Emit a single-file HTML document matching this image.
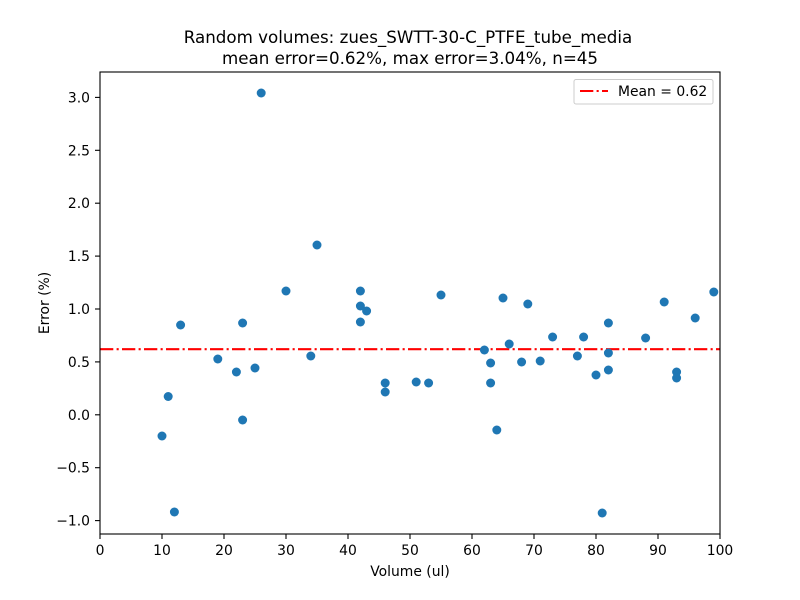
<!DOCTYPE html>
<html><head><meta charset="utf-8"><style>
html,body{margin:0;padding:0;background:#fff;}
svg{display:block;font-family:"DejaVu Sans","Liberation Sans",sans-serif;}
</style></head><body>
<svg width="800" height="600" viewBox="0 0 800 600" xmlns="http://www.w3.org/2000/svg">
<rect width="800" height="600" fill="#fff"/>
<text x="408" y="43" font-size="16.7" text-anchor="middle">Random volumes: zues_SWTT-30-C_PTFE_tube_media</text>
<text x="410" y="64" font-size="16.7" text-anchor="middle">mean error=0.62%, max error=3.04%, n=45</text>
<line x1="100" y1="349.2" x2="720" y2="349.2" stroke="#ff0000" stroke-width="2.08" stroke-dasharray="13.3,3.3,2.1,3.3"/>
<g fill="#1f77b4">
<circle cx="162" cy="436" r="4.5"/>
<circle cx="168.2" cy="396.5" r="4.5"/>
<circle cx="174.4" cy="512" r="4.5"/>
<circle cx="180.6" cy="325" r="4.5"/>
<circle cx="217.8" cy="359" r="4.5"/>
<circle cx="236.4" cy="372" r="4.5"/>
<circle cx="242.6" cy="323" r="4.5"/>
<circle cx="242.6" cy="420" r="4.5"/>
<circle cx="255" cy="368" r="4.5"/>
<circle cx="261.2" cy="93" r="4.5"/>
<circle cx="286" cy="291" r="4.5"/>
<circle cx="310.8" cy="356" r="4.5"/>
<circle cx="317" cy="245" r="4.5"/>
<circle cx="360.4" cy="291" r="4.5"/>
<circle cx="360.4" cy="306" r="4.5"/>
<circle cx="360.4" cy="322" r="4.5"/>
<circle cx="366.6" cy="311" r="4.5"/>
<circle cx="385.2" cy="383" r="4.5"/>
<circle cx="385.2" cy="392" r="4.5"/>
<circle cx="416.2" cy="382" r="4.5"/>
<circle cx="428.6" cy="383" r="4.5"/>
<circle cx="441" cy="295" r="4.5"/>
<circle cx="484.4" cy="350" r="4.5"/>
<circle cx="490.6" cy="363" r="4.5"/>
<circle cx="490.6" cy="383" r="4.5"/>
<circle cx="496.8" cy="430" r="4.5"/>
<circle cx="503" cy="298" r="4.5"/>
<circle cx="509.2" cy="344" r="4.5"/>
<circle cx="521.6" cy="362" r="4.5"/>
<circle cx="527.8" cy="304" r="4.5"/>
<circle cx="540.2" cy="361" r="4.5"/>
<circle cx="552.6" cy="337" r="4.5"/>
<circle cx="577.4" cy="356" r="4.5"/>
<circle cx="583.6" cy="337" r="4.5"/>
<circle cx="596" cy="375" r="4.5"/>
<circle cx="602.2" cy="513" r="4.5"/>
<circle cx="608.4" cy="323" r="4.5"/>
<circle cx="608.4" cy="353" r="4.5"/>
<circle cx="608.4" cy="370" r="4.5"/>
<circle cx="645.6" cy="338" r="4.5"/>
<circle cx="664.2" cy="302" r="4.5"/>
<circle cx="676.6" cy="372" r="4.5"/>
<circle cx="676.6" cy="378" r="4.5"/>
<circle cx="695.2" cy="318" r="4.5"/>
<circle cx="713.8" cy="292" r="4.5"/>
</g>
<rect x="100" y="72" width="620" height="462" fill="none" stroke="#000" stroke-width="1.1"/>
<g stroke="#000" stroke-width="1.1">
<line x1="100" y1="534" x2="100" y2="539"/>
<line x1="162" y1="534" x2="162" y2="539"/>
<line x1="224" y1="534" x2="224" y2="539"/>
<line x1="286" y1="534" x2="286" y2="539"/>
<line x1="348" y1="534" x2="348" y2="539"/>
<line x1="410" y1="534" x2="410" y2="539"/>
<line x1="472" y1="534" x2="472" y2="539"/>
<line x1="534" y1="534" x2="534" y2="539"/>
<line x1="596" y1="534" x2="596" y2="539"/>
<line x1="658" y1="534" x2="658" y2="539"/>
<line x1="720" y1="534" x2="720" y2="539"/>
</g>
<g font-size="13.9" text-anchor="middle">
<text x="100" y="555">0</text>
<text x="162" y="555">10</text>
<text x="224" y="555">20</text>
<text x="286" y="555">30</text>
<text x="348" y="555">40</text>
<text x="410" y="555">50</text>
<text x="472" y="555">60</text>
<text x="534" y="555">70</text>
<text x="596" y="555">80</text>
<text x="658" y="555">90</text>
<text x="720" y="555">100</text>
</g>
<g stroke="#000" stroke-width="1.1">
<line x1="95" y1="520.6" x2="100" y2="520.6"/>
<line x1="95" y1="467.7" x2="100" y2="467.7"/>
<line x1="95" y1="414.8" x2="100" y2="414.8"/>
<line x1="95" y1="361.9" x2="100" y2="361.9"/>
<line x1="95" y1="309" x2="100" y2="309"/>
<line x1="95" y1="256.1" x2="100" y2="256.1"/>
<line x1="95" y1="203.2" x2="100" y2="203.2"/>
<line x1="95" y1="150.3" x2="100" y2="150.3"/>
<line x1="95" y1="97.4" x2="100" y2="97.4"/>
</g>
<g font-size="13.9" text-anchor="end">
<text x="90" y="525.6">−1.0</text>
<text x="90" y="472.7">−0.5</text>
<text x="90" y="419.8">0.0</text>
<text x="90" y="366.9">0.5</text>
<text x="90" y="314">1.0</text>
<text x="90" y="261.1">1.5</text>
<text x="90" y="208.2">2.0</text>
<text x="90" y="155.3">2.5</text>
<text x="90" y="102.4">3.0</text>
</g>
<text x="410" y="576" font-size="13.9" text-anchor="middle">Volume (ul)</text>
<text transform="translate(49,303) rotate(-90)" font-size="13.9" text-anchor="middle">Error (%)</text>
<rect x="574" y="79.5" width="139" height="24.5" rx="2" ry="2" fill="#fff" fill-opacity="0.8" stroke="#cccccc" stroke-width="1"/>
<line x1="580" y1="91" x2="608" y2="91" stroke="#ff0000" stroke-width="2.08" stroke-dasharray="13.3,3.3,2.1,3.3"/>
<text x="618" y="96" font-size="13.9">Mean = 0.62</text>
</svg>
</body></html>
